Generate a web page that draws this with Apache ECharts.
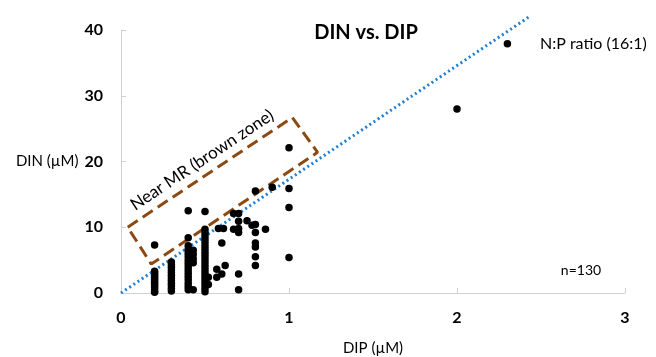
<!DOCTYPE html>
<html>
<head>
<meta charset="utf-8">
<script src="https://cdn.jsdelivr.net/npm/echarts@6/dist/echarts.min.js"></script>
<style>html,body{margin:0;padding:0;background:#fff}#c{width:656px;height:357px}</style>
</head>
<body>
<div id="c"></div>
<script>
// DIP (µM) values and DIN (µM) values
const dipValues = [
  0.2,0.2,0.2,0.2,0.2,0.2,0.2,0.2,0.2,0.2,0.2,0.2,0.2,
  0.3,0.3,0.3,0.3,0.3,0.3,0.3,0.3,0.3,0.3,0.3,0.3,
  0.4,0.4,0.4,0.4,0.4,0.4,0.4,0.4,0.4,0.4,0.4,0.4,0.4,0.4,0.4,0.4,
  0.43,0.43,0.43,0.43,0.43,
  0.5,0.5,0.5,0.5,0.5,0.5,0.5,0.5,0.5,0.5,0.5,0.5,0.5,0.5,0.5,0.5,0.5,0.5,0.5,0.5,0.5,
  0.52,0.52,
  0.57,0.57,0.6,0.62,0.6,0.58,0.61,
  0.7,0.7,0.7,0.7,0.7,0.7,0.67,0.67,0.75,
  0.8,0.8,0.8,0.8,0.8,0.8,0.8,0.78,
  0.86,0.9,
  1.0,1.0,1.0,1.0,
  2.0,2.3
];
const dinValues = [
  7.3,3.3,3.0,2.7,2.4,2.1,1.8,1.5,1.2,0.9,0.6,0.3,0.1,
  4.7,4.3,3.9,3.5,3.1,2.7,2.3,1.9,1.5,1.1,0.7,0.3,
  12.5,8.4,7.2,6.6,6.0,5.5,5.0,4.5,4.0,3.5,3.0,2.5,2.0,1.5,1.0,0.5,
  6.5,5.9,5.2,4.6,0.5,
  12.4,9.7,9.2,8.7,8.2,7.7,7.2,6.7,6.2,5.7,5.2,4.7,4.2,3.7,3.2,2.7,2.2,1.7,1.2,0.7,0.2,
  2.4,1.3,
  3.6,2.4,2.9,4.2,7.6,9.8,9.8,
  2.9,0.5,9.8,9.2,10.9,12.1,9.7,12.1,11.0,
  15.5,10.4,9.2,7.6,7.0,5.5,4.2,10.3,
  9.7,16.1,
  22.1,15.9,13.0,5.4,
  28.0,37.9
];
// 16:1 reference line end points (as drawn)
const ratioLineDip = [0, 2.44];
const ratioLineDin = [0, 42.2];
// "Near MR" zone corners (DIP, DIN)
const zoneDip = [0.04, 1.02, 1.17, 0.18, 0.04];
const zoneDin = [10.0, 26.7, 21.4, 4.4, 10.0];
const xTicks = [0, 1, 2, 3];
const yTicks = [0, 10, 20, 30, 40];

const points = dipValues.map((x, i) => [x, dinValues[i]]);
const ratioLine = ratioLineDip.map((x, i) => [x, ratioLineDin[i]]);
const zone = zoneDip.map((x, i) => [x, zoneDin[i]]);

const FONT = 'Lato, "Open Sans", sans-serif';
const chart = echarts.init(document.getElementById('c'));
chart.setOption({
  animation: false,
  backgroundColor: '#fff',
  title: {
    text: 'DIN vs. DIP',
    left: 361, top: 18, textAlign: 'center',
    textStyle: {fontFamily: FONT, fontSize: 20, fontWeight: 'bold', color: '#000'}
  },
  grid: {left: 121, right: 31, top: 30, bottom: 64, containLabel: false, outerBoundsMode: 'none'},
  xAxis: {
    type: 'value', min: xTicks[0], max: xTicks[xTicks.length - 1], interval: 1,
    name: 'DIP (µM)', nameLocation: 'middle', nameGap: 48,
    nameTextStyle: {fontFamily: FONT, fontSize: 15, color: '#000'},
    axisLine: {show: true, lineStyle: {color: '#d0d0d0', width: 1}},
    axisTick: {show: true, inside: true, length: 5, lineStyle: {color: '#d0d0d0'}},
    axisLabel: {fontFamily: FONT, fontSize: 16, fontWeight: 'bold', color: '#000', margin: 17},
    splitLine: {show: false}
  },
  yAxis: {
    type: 'value', min: yTicks[0], max: yTicks[yTicks.length - 1], interval: 10,
    name: 'DIN (µM)', nameLocation: 'middle', nameGap: 42, nameRotate: 0,
    nameTextStyle: {fontFamily: FONT, fontSize: 15, color: '#000', align: 'right'},
    axisLine: {show: true, lineStyle: {color: '#d0d0d0', width: 1}},
    axisTick: {show: true, inside: true, length: 5, lineStyle: {color: '#d0d0d0'}},
    axisLabel: {fontFamily: FONT, fontSize: 16, fontWeight: 'bold', color: '#000', margin: 18},
    splitLine: {show: false}
  },
  series: [
    {
      type: 'line', data: ratioLine, showSymbol: false, symbol: 'none', clip: false, z: 3,
      lineStyle: {color: '#1f7fd4', width: 3, type: [2, 3], cap: 'butt'}
    },
    {
      type: 'line', data: zone, showSymbol: false, symbol: 'none', clip: false, z: 2,
      lineStyle: {color: '#8c4a12', width: 3, type: [12, 6]}
    },
    {
      type: 'scatter', data: points, symbol: 'circle', symbolSize: 7.5, z: 4,
      itemStyle: {color: '#000', opacity: 1}
    }
  ],
  graphic: [
    {type: 'text', x: 202, y: 160, rotation: 33.6 * Math.PI / 180,
     style: {text: 'Near MR (brown zone)', font: '17px ' + FONT, fill: '#000', textAlign: 'center', textVerticalAlign: 'middle'}},
    {type: 'text', x: 540, y: 44,
     style: {text: 'N:P ratio (16:1)', font: '16px ' + FONT, fill: '#000', textAlign: 'left', textVerticalAlign: 'middle'}},
    {type: 'text', x: 581, y: 270,
     style: {text: 'n=130', font: '14px ' + FONT, fill: '#000', textAlign: 'center', textVerticalAlign: 'middle'}}
  ]
});
</script>
</body>
</html>
